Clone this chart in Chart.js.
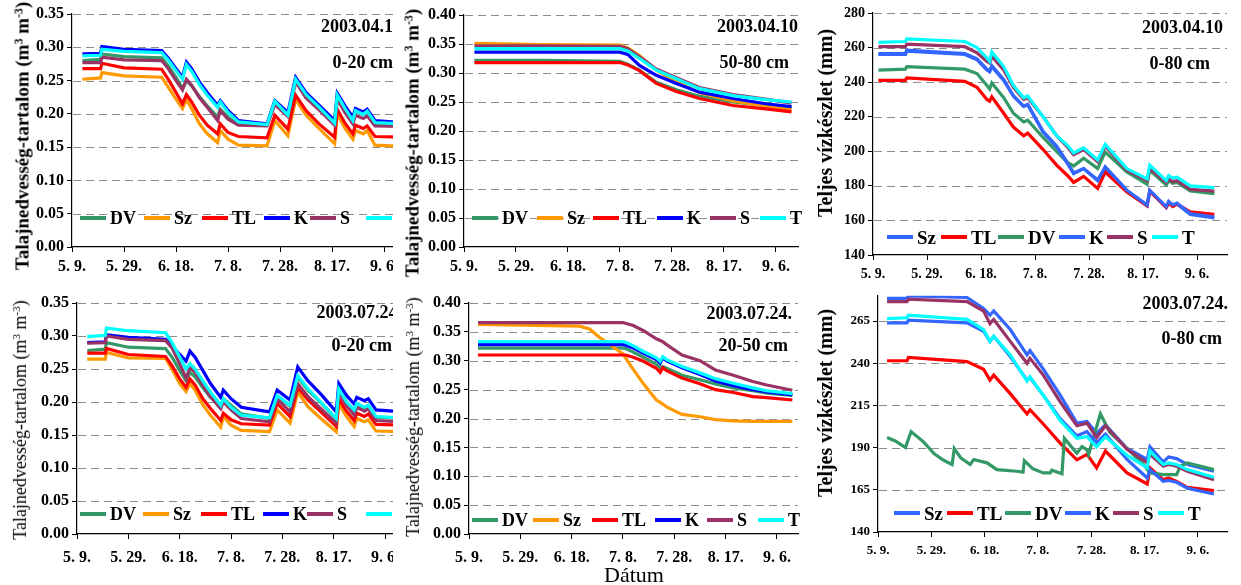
<!DOCTYPE html>
<html>
<head>
<meta charset="utf-8">
<script src="https://cdn.jsdelivr.net/npm/chart.js@4.4.1/dist/chart.umd.min.js"></script>
<style>
  body { margin:0; background:#fff; width:1241px; height:585px; position:relative; overflow:hidden;
         font-family:"Liberation Serif","Times New Roman",serif; color:#000; }
  canvas { position:absolute; }
  .box { position:absolute; overflow:hidden; }
  .ytitle { position:absolute; white-space:nowrap; transform:translate(-50%,-50%) rotate(-90deg); line-height:1; }
  .ytitle sup { font-size:0.62em; vertical-align:0.55em; }
  .note { position:absolute; white-space:nowrap; font-weight:bold; font-size:18px; line-height:18px; transform:translate(-100%,-50%); }
  .legline { position:absolute; height:4px; }
  .legtxt { position:absolute; white-space:nowrap; font-weight:bold; line-height:1; transform:translateY(-50%); }
</style>
</head>
<body>
<script>
// ---- axis labels ----
const TICK_LABELS = ['5. 9.', '5. 29.', '6. 18.', '7. 8.', '7. 28.', '8. 17.', '9. 6.'];
const X_TICK_DAYS = [0, 20, 40, 60, 80, 100, 120];
const JUL80_YTICKS = [140, 165, 190, 215, 240, 265];
const NAMES_A = ['DV', 'Sz', 'TL', 'K', 'S', 'T'];
const NAMES_B = ['Sz', 'TL', 'DV', 'K', 'S', 'T'];

// ---- 2003.04.10, 0-20 cm and 2003.07.24, 0-20 cm (day 0 = 5.9.) ----
const DAYS_20 = [4, 11, 11.5, 20, 34.5, 37, 40, 42.5, 44, 46, 49, 52, 56, 57, 60, 64, 75, 78, 83, 86, 90, 95, 101, 102, 105, 108, 109, 112, 113.5, 116.5, 127];
const APR20_DV = [0.280, 0.282, 0.290, 0.286, 0.284, 0.272, 0.255, 0.238, 0.250, 0.242, 0.226, 0.212, 0.195, 0.207, 0.195, 0.184, 0.183, 0.218, 0.197, 0.250, 0.228, 0.209, 0.186, 0.226, 0.207, 0.190, 0.204, 0.199, 0.203, 0.186, 0.184];
const APR20_SZ = [0.252, 0.254, 0.262, 0.257, 0.255, 0.240, 0.222, 0.208, 0.221, 0.208, 0.185, 0.170, 0.157, 0.175, 0.162, 0.153, 0.152, 0.190, 0.167, 0.222, 0.198, 0.178, 0.155, 0.200, 0.178, 0.162, 0.175, 0.170, 0.175, 0.153, 0.151];
const APR20_TL = [0.268, 0.268, 0.276, 0.269, 0.267, 0.252, 0.232, 0.215, 0.229, 0.218, 0.198, 0.183, 0.170, 0.185, 0.172, 0.166, 0.164, 0.198, 0.177, 0.228, 0.205, 0.185, 0.165, 0.207, 0.186, 0.170, 0.183, 0.178, 0.182, 0.166, 0.165];
const APR20_K  = [0.290, 0.291, 0.301, 0.297, 0.295, 0.284, 0.268, 0.255, 0.278, 0.268, 0.248, 0.232, 0.213, 0.220, 0.205, 0.190, 0.185, 0.220, 0.202, 0.255, 0.232, 0.213, 0.190, 0.231, 0.212, 0.195, 0.208, 0.203, 0.207, 0.190, 0.187];
const APR20_S  = [0.277, 0.277, 0.285, 0.281, 0.280, 0.268, 0.250, 0.236, 0.252, 0.243, 0.224, 0.210, 0.190, 0.205, 0.192, 0.183, 0.182, 0.214, 0.196, 0.248, 0.224, 0.206, 0.183, 0.222, 0.202, 0.185, 0.198, 0.193, 0.197, 0.182, 0.181];
const APR20_T  = [0.287, 0.288, 0.297, 0.294, 0.292, 0.281, 0.265, 0.252, 0.274, 0.264, 0.244, 0.228, 0.210, 0.218, 0.202, 0.188, 0.184, 0.219, 0.198, 0.252, 0.229, 0.210, 0.186, 0.228, 0.208, 0.190, 0.205, 0.199, 0.204, 0.187, 0.185];

const JUL20_DV = [0.278, 0.280, 0.290, 0.283, 0.281, 0.268, 0.248, 0.232, 0.245, 0.238, 0.222, 0.207, 0.195, 0.205, 0.195, 0.182, 0.175, 0.209, 0.194, 0.238, 0.218, 0.199, 0.174, 0.219, 0.199, 0.187, 0.197, 0.191, 0.194, 0.177, 0.175];
const JUL20_SZ = [0.265, 0.265, 0.275, 0.267, 0.266, 0.250, 0.228, 0.216, 0.228, 0.218, 0.196, 0.180, 0.162, 0.178, 0.165, 0.157, 0.155, 0.188, 0.168, 0.215, 0.193, 0.175, 0.155, 0.198, 0.178, 0.163, 0.175, 0.170, 0.173, 0.156, 0.155];
const JUL20_TL = [0.274, 0.274, 0.281, 0.272, 0.269, 0.255, 0.235, 0.222, 0.235, 0.226, 0.205, 0.190, 0.172, 0.183, 0.173, 0.167, 0.165, 0.198, 0.178, 0.222, 0.203, 0.185, 0.163, 0.205, 0.186, 0.172, 0.183, 0.178, 0.182, 0.166, 0.165];
const JUL20_K  = [0.290, 0.291, 0.302, 0.298, 0.295, 0.285, 0.272, 0.262, 0.277, 0.268, 0.248, 0.228, 0.207, 0.218, 0.205, 0.192, 0.185, 0.218, 0.203, 0.253, 0.232, 0.212, 0.185, 0.228, 0.210, 0.197, 0.207, 0.202, 0.205, 0.188, 0.185];
const JUL20_S  = [0.289, 0.290, 0.300, 0.295, 0.293, 0.282, 0.258, 0.236, 0.252, 0.245, 0.225, 0.208, 0.190, 0.200, 0.188, 0.175, 0.170, 0.205, 0.185, 0.228, 0.208, 0.190, 0.168, 0.215, 0.195, 0.180, 0.192, 0.186, 0.190, 0.172, 0.170];
const JUL20_T  = [0.299, 0.301, 0.312, 0.308, 0.305, 0.290, 0.268, 0.250, 0.258, 0.250, 0.232, 0.215, 0.195, 0.205, 0.192, 0.180, 0.176, 0.210, 0.195, 0.240, 0.220, 0.200, 0.175, 0.220, 0.200, 0.188, 0.198, 0.192, 0.195, 0.178, 0.176];

// ---- 2003.04.10, 50-80 cm ----
const DAYS_APR50 = [4, 30, 60, 63, 67.5, 74, 81.7, 90.6, 103.5, 116, 126];
const APR50_DV = [0.322, 0.322, 0.320, 0.315, 0.305, 0.284, 0.271, 0.260, 0.250, 0.244, 0.240];
const APR50_SZ = [0.351, 0.349, 0.348, 0.343, 0.330, 0.305, 0.285, 0.266, 0.252, 0.243, 0.237];
const APR50_TL = [0.318, 0.318, 0.318, 0.314, 0.304, 0.282, 0.268, 0.256, 0.244, 0.238, 0.233];
const APR50_K  = [0.336, 0.336, 0.336, 0.332, 0.313, 0.296, 0.282, 0.267, 0.256, 0.247, 0.242];
const APR50_S  = [0.347, 0.347, 0.346, 0.342, 0.328, 0.307, 0.292, 0.275, 0.263, 0.255, 0.248];
const APR50_T  = [0.342, 0.342, 0.342, 0.338, 0.325, 0.305, 0.290, 0.273, 0.261, 0.254, 0.250];

// ---- 2003.07.24., 20-50 cm ----
const DAYS_JUL50 = [3.5, 43, 47, 51, 57.4, 60, 61, 64, 68, 73, 74.5, 75.5, 77, 83, 90, 96, 103, 110.6, 116, 126];
const JUL50_DV = [0.322, 0.322, 0.322, 0.322, 0.322, 0.322, 0.321, 0.315, 0.306, 0.294, 0.288, 0.290, 0.287, 0.275, 0.267, 0.260, 0.253, 0.248, 0.244, 0.240];
const JUL50_SZ = [0.363, 0.360, 0.355, 0.340, 0.320, 0.312, 0.305, 0.285, 0.260, 0.232, 0.228, 0.225, 0.220, 0.207, 0.203, 0.198, 0.196, 0.195, 0.195, 0.195];
const JUL50_TL = [0.310, 0.310, 0.310, 0.310, 0.310, 0.310, 0.310, 0.306, 0.299, 0.287, 0.280, 0.288, 0.283, 0.270, 0.260, 0.250, 0.245, 0.238, 0.236, 0.232];
const JUL50_K  = [0.328, 0.328, 0.328, 0.328, 0.328, 0.328, 0.327, 0.322, 0.313, 0.302, 0.296, 0.305, 0.300, 0.288, 0.276, 0.265, 0.257, 0.250, 0.246, 0.241];
const JUL50_S  = [0.366, 0.366, 0.366, 0.366, 0.366, 0.366, 0.365, 0.361, 0.352, 0.338, 0.335, 0.333, 0.328, 0.310, 0.300, 0.284, 0.275, 0.264, 0.258, 0.249];
const JUL50_T  = [0.333, 0.333, 0.333, 0.333, 0.333, 0.333, 0.332, 0.326, 0.316, 0.305, 0.299, 0.307, 0.302, 0.290, 0.279, 0.269, 0.261, 0.253, 0.248, 0.243];

// ---- 2003.04.10, 0-80 cm (mm) ----
const DAYS_APR80 = [2, 12, 12.5, 34, 38.5, 42.2, 43.2, 44, 48.4, 52, 55.8, 57.3, 63, 68, 72, 74.3, 78, 83.2, 86, 94, 101.5, 102.5, 108.6, 109.5, 111, 112.6, 117.5, 126.4];
const APR80_SZ = [256.5, 256.5, 258.5, 256.5, 253.5, 247.5, 246.5, 249.5, 241.5, 232, 226, 227, 211.5, 203, 193.5, 187.5, 190, 183.5, 190.5, 177, 168.5, 177, 167.5, 170.5, 168.5, 169.5, 163.5, 161.5];
const APR80_TL = [241, 241, 242.5, 240.5, 237, 230, 229, 231.5, 222, 214, 209, 210.5, 201, 192, 186, 182, 185.5, 178.5, 188, 176.5, 168.5, 177, 167.5, 170, 168, 169.5, 165, 163.5];
const APR80_DV = [247, 247.5, 249, 247.5, 245, 238, 236, 239.5, 231, 222, 217, 218, 208, 200, 193.5, 191.5, 196, 190, 199.5, 188, 181, 189, 180.5, 183, 181.5, 182, 177, 175.5];
const APR80_K  = [256, 256, 258, 256, 253, 247, 246, 249, 241, 232, 226, 227, 211, 202.5, 193, 187, 190, 183, 191, 177.5, 169, 177.5, 168, 171, 169, 170, 164, 162];
const APR80_S  = [260.5, 260.5, 262, 260.5, 257, 252, 251, 255, 247, 237, 230, 231, 220, 209, 202.5, 198, 201, 194, 203, 189, 183, 190, 182, 184, 182.5, 183, 178, 177];
const APR80_T  = [263, 263.5, 265, 263.5, 260, 254, 252, 257.5, 249, 238, 231, 232, 220, 209, 203.5, 199, 202, 195, 204, 190, 184, 192, 183, 186, 184.5, 185, 180, 179];

// ---- 2003.07.24., 0-80 cm (mm) ----
const DAYS_JUL80 = [3.4, 10.9, 11.4, 33.4, 39.6, 42, 43.4, 49.6, 55.9, 57, 62, 68.4, 74.6, 78.4, 82, 85.3, 93.4, 101, 102, 107, 109, 112, 116, 126];
const JUL80_SZ = [278.5, 278.5, 280, 279, 272.5, 268.5, 271, 260, 245, 247.5, 236.5, 221, 204.5, 205.5, 198.5, 203.5, 189.5, 183, 190.5, 181.5, 184.5, 183.5, 180, 176];
const JUL80_TL = [241.5, 241.5, 243.5, 241, 236.5, 230, 233, 222, 210, 212.5, 204, 192.5, 182.8, 186, 178, 188, 175, 168.5, 178, 171, 172, 170, 166.5, 164.5];
const JUL80_K  = [264, 264, 265.5, 264, 259, 253, 256, 244, 230, 231.5, 221, 207, 197, 199.5, 193, 198, 183, 172, 177, 170, 170.5, 169.5, 166, 162.5];
const JUL80_S  = [276.5, 276.5, 278, 276.5, 271, 263.5, 266, 253, 240, 243, 233, 217, 203, 204.5, 196, 203, 189, 181, 186, 179, 180, 179, 176, 171];
const JUL80_T  = [266.5, 267, 268.5, 266, 260, 253, 256, 245, 229.5, 232, 221, 206, 195.5, 196.5, 190.5, 196.5, 185.5, 178, 188, 180, 181, 180, 177, 172.5];
const DAYS_JUL80_DV = [3.4, 6.5, 10.3, 12.4, 17, 21, 24.6, 27.8, 28.6, 31, 34.6, 35.9, 40.9, 44.6, 52, 54.4, 54.9, 58, 62, 64.6, 65.2, 69, 69.9, 74.6, 76.5, 78.4, 79, 83.4, 87, 93.4, 99.6, 102, 107, 112, 113.4, 116, 126];
const JUL80_DV = [196, 194, 190, 199.5, 193.5, 186.5, 182.5, 180, 189.5, 184, 180, 183, 181, 177, 176, 175.5, 182.3, 177.5, 175, 175, 176.6, 174.5, 195.5, 186.7, 190.6, 188.7, 186, 210, 199, 189.6, 180, 175, 174, 174, 179, 181, 177];

// ---- colours ----
const COLORS_A = ['#339966', '#FF9900', '#FF0000', '#0000FF', '#993366', '#00FFFF'];
const COLORS_B = ['#3366FF', '#FF0000', '#339966', '#3366FF', '#993366', '#00FFFF'];

const FONT = '"Liberation Serif", "Times New Roman", serif';
const TITLE_SOIL = 'Talajnedvesség-tartalom (m<sup>3</sup> m<sup>-3</sup>)';
const TITLE_MM = 'Teljes vízkészlet (mm)';

// layout of the six panels (page pixels)
const PANELS = [
  { names:NAMES_A, colors:COLORS_A, clip:[0,0,393,290], box:[0,0,420,285], area:[72,14,402,247], xmax:126.9,
    y:{min:0, max:0.35, step:0.05, dec:2}, fs:16, xpad:5,
    series:[[DAYS_20,APR20_DV],[DAYS_20,APR20_SZ],[DAYS_20,APR20_TL],[DAYS_20,APR20_K],[DAYS_20,APR20_S],[DAYS_20,APR20_T]],
    ytitle:{html:TITLE_SOIL, cx:22, cy:136, size:19, bold:true},
    notes:[['2003.04.10',402,26],['0-20 cm',393,62]], leg:{cy:218, size:18, xs:[110,174,232,294,340,396]} },
  { names:NAMES_A, colors:COLORS_A, box:[400,0,410,285], area:[464,15,798,247], xmax:128.5,
    y:{min:0, max:0.40, step:0.05, dec:2}, fs:16, xpad:5,
    series:[[DAYS_APR50,APR50_DV],[DAYS_APR50,APR50_SZ],[DAYS_APR50,APR50_TL],[DAYS_APR50,APR50_K],[DAYS_APR50,APR50_S],[DAYS_APR50,APR50_T]],
    ytitle:{html:TITLE_SOIL, cx:412, cy:143, size:19, bold:true},
    notes:[['2003.04.10',798,26],['50-80 cm',789,62]], leg:{cy:218, size:18, xs:[502,567,623,687,740,790]} },
  { names:NAMES_B, colors:COLORS_B, box:[810,0,431,285], area:[873,13,1227,255], xmax:131.1,
    y:{min:140, max:280, step:20, dec:0}, fs:14, xpad:6,
    series:[[DAYS_APR80,APR80_SZ],[DAYS_APR80,APR80_TL],[DAYS_APR80,APR80_DV],[DAYS_APR80,APR80_K],[DAYS_APR80,APR80_S],[DAYS_APR80,APR80_T]],
    ytitle:{html:TITLE_MM, cx:825, cy:123, size:20, bold:true},
    notes:[['2003.04.10',1223,27],['0-80 cm',1210,63]], leg:{cy:237, size:19, xs:[917,971,1028,1089,1137,1182]} },
  { names:NAMES_A, colors:COLORS_A, clip:[0,290,393,295], box:[0,290,420,295], area:[77,303,404,534], xmax:127.4,
    y:{min:0, max:0.35, step:0.05, dec:2}, fs:16, xpad:9,
    series:[[DAYS_20,JUL20_DV],[DAYS_20,JUL20_SZ],[DAYS_20,JUL20_TL],[DAYS_20,JUL20_K],[DAYS_20,JUL20_S],[DAYS_20,JUL20_T]],
    ytitle:{html:TITLE_SOIL, cx:20, cy:420, size:18, bold:false},
    notes:[['2003.07.24.',402,312],['0-20 cm',392,345]], leg:{cy:514, size:18, xs:[110,173,231,293,337,396]} },
  { names:NAMES_A, colors:COLORS_A, box:[400,290,410,295], area:[469,303,798,534], xmax:128.2,
    y:{min:0, max:0.40, step:0.05, dec:2}, fs:16, xpad:9,
    series:[[DAYS_JUL50,JUL50_DV],[DAYS_JUL50,JUL50_SZ],[DAYS_JUL50,JUL50_TL],[DAYS_JUL50,JUL50_K],[DAYS_JUL50,JUL50_S],[DAYS_JUL50,JUL50_T]],
    ytitle:{html:TITLE_SOIL, cx:413, cy:417, size:18, bold:false},
    notes:[['2003.07.24.',792,313],['20-50 cm',788,345]], leg:{cy:520, size:18, xs:[502,563,622,685,737,788]} },
  { names:NAMES_B, colors:COLORS_B, box:[810,285,431,300], area:[878,292,1227,532], xmax:130.9,
    y:{min:140, max:280, ticks:JUL80_YTICKS, dec:0}, fs:13, xpad:6,
    series:[[DAYS_JUL80,JUL80_SZ],[DAYS_JUL80,JUL80_TL],[DAYS_JUL80_DV,JUL80_DV],[DAYS_JUL80,JUL80_K],[DAYS_JUL80,JUL80_S],[DAYS_JUL80,JUL80_T]],
    ytitle:{html:TITLE_MM, cx:825, cy:403, size:20, bold:true},
    notes:[['2003.07.24.',1228,303],['0-80 cm',1222,338]], leg:{cy:513, size:19, xs:[924,977,1035,1095,1143,1188]} }
];

function el(parent, cls, css, html) {
  const d = document.createElement('div');
  if (cls) d.className = cls;
  Object.assign(d.style, css);
  if (html != null) d.innerHTML = html;
  parent.appendChild(d);
  return d;
}

// dashed horizontal grid lines, drawn under the data
const dashedGrid = {
  id: 'dashedGrid',
  beforeDatasetsDraw(chart) {
    const {ctx, chartArea: a, scales: {y}} = chart;
    ctx.save();
    ctx.strokeStyle = '#8c8c8c';
    ctx.lineWidth = 1;
    ctx.setLineDash([8, 5]);
    y.ticks.forEach(t => {
      const py = Math.round(y.getPixelForValue(t.value)) + 0.5;
      if (py > a.bottom - 1) return;
      ctx.beginPath();
      ctx.moveTo(a.left + 1, py);
      ctx.lineTo(a.right, py);
      ctx.stroke();
    });
    ctx.restore();
  }
};

function buildPanel(p) {
  let parent = document.body, ox = 0, oy = 0;
  if (p.clip) {
    parent = el(document.body, 'box', {left:p.clip[0]+'px', top:p.clip[1]+'px', width:p.clip[2]+'px', height:p.clip[3]+'px'});
    ox = p.clip[0]; oy = p.clip[1];
  }
  const cv = document.createElement('canvas');
  cv.width = p.box[2]; cv.height = p.box[3];
  Object.assign(cv.style, {left:(p.box[0]-ox)+'px', top:(p.box[1]-oy)+'px', width:p.box[2]+'px', height:p.box[3]+'px'});
  parent.appendChild(cv);

  const yAxisW = p.area[0] - p.box[0];
  const xAxisH = p.box[1] + p.box[3] - p.area[3];
  const tickFont = {family:FONT, weight:'bold', size:p.fs};

  const datasets = p.series.map(([days, vals], i) => ({
    label: p.names[i],
    data: days.map((d, j) => ({x:d, y:vals[j]})),
    borderColor: p.colors[i],
    backgroundColor: p.colors[i],
    borderWidth: 3.2,
    pointRadius: 0,
    tension: 0,
    order: 6 - i
  }));

  const yScale = {
    min:p.y.min, max:p.y.max,
    afterFit: s => { s.width = yAxisW; },
    ticks:{ padding:3, color:'#000', font:tickFont, callback: v => Number(v).toFixed(p.y.dec) },
    grid:{ drawOnChartArea:false, drawTicks:true, tickLength:5, tickColor:'#000' },
    border:{ color:'#000', width:1.2 }
  };
  if (p.y.ticks) yScale.afterBuildTicks = s => { s.ticks = p.y.ticks.map(v => ({value:v})); };
  else yScale.ticks.stepSize = p.y.step;

  new Chart(cv, {
    type:'line',
    data:{ datasets },
    plugins:[dashedGrid],
    options:{
      responsive:false, animation:false, events:[],
      layout:{ autoPadding:false, padding:{ left:0, top:p.area[1]-p.box[1], right:p.box[0]+p.box[2]-p.area[2], bottom:0 } },
      plugins:{ legend:{display:false}, tooltip:{enabled:false}, title:{display:false} },
      scales:{
        x:{ type:'linear', min:0, max:p.xmax,
            afterFit: s => { s.height = xAxisH; },
            afterBuildTicks: s => { s.ticks = X_TICK_DAYS.map(v => ({value:v})); },
            ticks:{ autoSkip:false, maxRotation:0, padding:p.xpad, color:'#000', font:tickFont,
                    callback: v => TICK_LABELS[Math.round(v / 20)] },
            grid:{ drawOnChartArea:false, drawTicks:true, tickLength:5, tickColor:'#000' },
            border:{ color:'#000', width:1.2 } },
        y: yScale
      }
    }
  });

  // y axis title
  el(parent, 'ytitle', {left:(p.ytitle.cx-ox)+'px', top:(p.ytitle.cy-oy)+'px', fontSize:p.ytitle.size+'px',
                        fontWeight:p.ytitle.bold ? 'bold' : 'normal'}, p.ytitle.html);
  // date / depth notes
  p.notes.forEach(([txt, right, cy]) => {
    el(parent, 'note', {left:(right-ox)+'px', top:(cy-oy)+'px'}, txt);
  });
  // legend inside the plot
  p.names.forEach((name, i) => {
    const tx = p.leg.xs[i];
    el(parent, 'legline', {left:(tx-30-ox)+'px', top:(p.leg.cy-2-oy)+'px', width:'26px', background:p.colors[i]});
    el(parent, 'legtxt', {left:(tx-ox)+'px', top:(p.leg.cy-oy)+'px', fontSize:p.leg.size+'px'}, name);
  });
}

PANELS.forEach(buildPanel);

el(document.body, 'ytitle', {left:'634px', top:'575px', fontSize:'22px', transform:'translate(-50%,-50%)'}, 'Dátum');
</script>
</body>
</html>
